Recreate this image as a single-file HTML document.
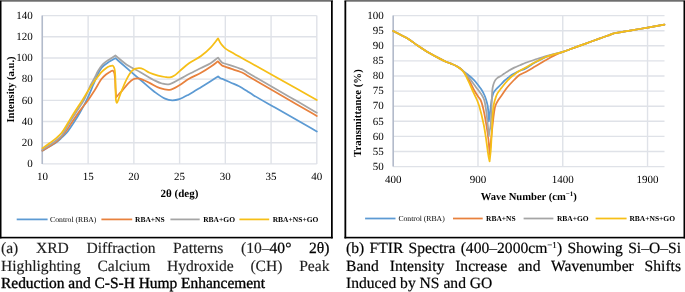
<!DOCTYPE html>
<html><head><meta charset="utf-8"><style>
html,body{margin:0;padding:0;background:#fff}
body{width:685px;height:292px;overflow:hidden;position:relative}
svg,.cap{will-change:transform}
.cap{position:absolute;text-rendering:geometricPrecision;font-family:'Liberation Serif',serif;font-size:15.6px;line-height:17.65px;text-align:justify;color:#000}
.cap .l{display:block;text-align-last:justify;white-space:nowrap}
</style></head><body>
<svg width="685" height="292" viewBox="0 0 685 292" style="position:absolute;left:0;top:0;text-rendering:geometricPrecision">
<rect x="0" y="0" width="333" height="1.2" fill="#6e6e6e"/>
<rect x="0" y="1.2" width="333" height="0.8" fill="#858585"/>
<rect x="344.5" y="0" width="340.5" height="1.2" fill="#6e6e6e"/>
<rect x="344.5" y="1.2" width="340.5" height="0.8" fill="#858585"/>
<g fill="#000">
<rect x="0" y="0.8" width="1.5" height="237.6"/><rect x="331" y="0.8" width="1.75" height="237.6"/><rect x="0" y="236.8" width="332.75" height="1.6"/>
<rect x="344.45" y="0.8" width="1.8" height="237.6"/><rect x="683.5" y="0.8" width="1.5" height="237.6"/><rect x="344.45" y="236.8" width="340.55" height="1.6"/>
</g>
<g stroke="#DFE2E8" stroke-width="1.4" fill="none"><line x1="42.4" y1="163.90" x2="316.8" y2="163.90"/><line x1="42.4" y1="142.71" x2="316.8" y2="142.71"/><line x1="42.4" y1="121.53" x2="316.8" y2="121.53"/><line x1="42.4" y1="100.34" x2="316.8" y2="100.34"/><line x1="42.4" y1="79.16" x2="316.8" y2="79.16"/><line x1="42.4" y1="57.97" x2="316.8" y2="57.97"/><line x1="42.4" y1="36.79" x2="316.8" y2="36.79"/><line x1="42.4" y1="15.60" x2="316.8" y2="15.60"/><line x1="42.40" y1="15.6" x2="42.40" y2="163.9"/><line x1="88.13" y1="15.6" x2="88.13" y2="163.9"/><line x1="133.87" y1="15.6" x2="133.87" y2="163.9"/><line x1="179.60" y1="15.6" x2="179.60" y2="163.9"/><line x1="225.33" y1="15.6" x2="225.33" y2="163.9"/><line x1="271.07" y1="15.6" x2="271.07" y2="163.9"/><line x1="316.80" y1="15.6" x2="316.80" y2="163.9"/><line x1="393.2" y1="15.60" x2="664.5" y2="15.60"/><line x1="393.2" y1="30.70" x2="664.5" y2="30.70"/><line x1="393.2" y1="45.80" x2="664.5" y2="45.80"/><line x1="393.2" y1="60.90" x2="664.5" y2="60.90"/><line x1="393.2" y1="76.00" x2="664.5" y2="76.00"/><line x1="393.2" y1="91.10" x2="664.5" y2="91.10"/><line x1="393.2" y1="106.20" x2="664.5" y2="106.20"/><line x1="393.2" y1="121.30" x2="664.5" y2="121.30"/><line x1="393.2" y1="136.40" x2="664.5" y2="136.40"/><line x1="393.2" y1="151.50" x2="664.5" y2="151.50"/><line x1="393.2" y1="166.60" x2="664.5" y2="166.60"/><line x1="393.20" y1="15.6" x2="393.20" y2="166.6"/><line x1="477.98" y1="15.6" x2="477.98" y2="166.6"/><line x1="562.76" y1="15.6" x2="562.76" y2="166.6"/><line x1="647.54" y1="15.6" x2="647.54" y2="166.6"/></g>
<g stroke="#ABB4C6" stroke-width="1.3"><line x1="42.2" y1="15.6" x2="42.2" y2="163.9"/><line x1="393.2" y1="15.6" x2="393.2" y2="166.6"/></g>
<g fill="none" stroke-width="1.75" stroke-linejoin="round" stroke-linecap="round">
<path d="M42.40,150.70 C44.73,149.33 47.04,148.02 49.40,146.60 C51.84,145.13 54.64,143.60 56.80,142.00 C58.67,140.62 60.08,139.20 61.70,137.70 C63.38,136.14 65.00,134.81 66.70,132.80 C68.92,130.18 71.30,126.35 73.50,123.00 C75.74,119.59 77.89,116.16 80.00,112.50 C82.23,108.64 84.39,104.76 86.50,100.40 C88.87,95.51 91.48,88.98 93.40,84.50 C94.80,81.23 95.63,78.79 97.00,76.00 C98.39,73.15 99.72,69.95 101.70,67.60 C103.59,65.36 106.16,63.69 108.50,62.10 C110.73,60.58 113.10,59.50 115.40,58.20 L115.40,58.20 C119.60,61.87 123.84,65.60 128.00,69.20 C132.04,72.70 135.77,75.89 140.00,79.50 C144.71,83.52 150.40,88.80 155.00,92.20 C158.58,94.84 161.83,97.26 165.00,98.60 C167.50,99.66 169.79,100.22 172.20,100.30 C174.59,100.38 176.89,99.90 179.40,99.10 C182.44,98.13 185.66,96.21 189.00,94.40 C192.82,92.32 197.23,89.51 201.00,87.20 C204.39,85.12 207.62,83.10 210.60,81.20 C213.23,79.52 215.53,78.00 218.00,76.40 L218.20,76.50 C218.80,76.97 219.25,77.46 220.00,77.90 C221.04,78.51 222.48,78.94 224.00,79.60 C226.01,80.47 228.62,81.65 231.00,82.70 C233.48,83.79 236.51,84.96 238.60,86.00 C240.14,86.77 241.16,87.41 242.50,88.20 C243.96,89.06 245.36,89.95 247.00,91.00 C249.02,92.29 250.80,93.62 253.70,95.40 C258.77,98.51 267.92,103.55 275.00,107.60 C282.02,111.62 289.02,115.61 296.00,119.60 C302.95,123.57 309.87,127.53 316.80,131.50" stroke="#5C9AD3"/><path d="M42.40,150.70 C44.73,149.27 47.05,147.91 49.40,146.40 C51.85,144.82 54.66,143.17 56.80,141.40 C58.69,139.84 60.10,138.28 61.70,136.50 C63.41,134.60 65.10,132.49 66.70,130.30 C68.37,128.00 69.66,125.75 71.50,123.00 C73.92,119.38 77.15,114.40 80.00,110.50 C82.62,106.91 85.42,103.84 87.90,100.40 C90.35,97.01 92.53,93.55 94.80,90.00 C97.13,86.35 99.51,81.57 101.70,78.80 C103.19,76.92 104.61,75.64 106.00,74.50 C107.13,73.58 108.30,72.93 109.30,72.30 C110.10,71.80 110.82,71.26 111.50,71.00 C112.03,70.80 112.58,70.51 113.00,70.70 C113.53,70.94 113.89,71.89 114.20,72.80 C114.68,74.20 114.79,76.35 115.00,78.50 C115.27,81.26 115.30,84.87 115.50,88.00 C115.70,91.07 115.97,94.07 116.20,97.10 L116.20,97.10 C117.13,96.07 118.03,95.04 119.00,94.00 C120.02,92.91 120.99,92.05 122.20,90.70 C123.94,88.75 126.26,85.31 128.30,83.30 C129.96,81.66 131.67,80.12 133.30,79.30 C134.56,78.66 135.82,78.38 137.00,78.30 C138.05,78.23 138.95,78.42 140.00,78.70 C141.26,79.03 142.54,79.67 144.00,80.30 C145.81,81.08 147.76,82.00 150.00,83.10 C152.92,84.53 156.62,87.06 160.00,88.20 C163.13,89.25 166.37,90.32 169.50,89.90 C172.84,89.45 176.19,87.02 179.40,85.20 C182.69,83.33 185.55,80.80 189.00,78.80 C192.71,76.64 197.27,74.89 201.00,72.80 C204.43,70.88 207.65,68.82 210.60,66.80 C213.27,64.98 215.53,63.13 218.00,61.30 L218.00,61.30 C218.67,62.07 219.31,62.90 220.00,63.60 C220.65,64.26 221.25,64.93 222.00,65.40 C222.75,65.87 223.41,65.99 224.50,66.40 C226.49,67.15 230.30,68.46 233.00,69.40 C235.44,70.25 238.08,71.06 240.00,71.80 C241.38,72.33 242.35,72.71 243.50,73.30 C244.69,73.91 245.56,74.54 247.00,75.40 C249.30,76.77 252.44,78.62 256.00,80.70 C261.16,83.71 268.51,87.94 275.00,91.70 C281.83,95.66 289.02,99.84 296.00,103.90 C302.95,107.94 309.87,111.97 316.80,116.00" stroke="#E8813D"/><path d="M42.40,149.80 C44.73,148.27 47.05,146.80 49.40,145.20 C51.85,143.54 54.64,141.74 56.80,140.00 C58.66,138.51 60.03,137.52 61.70,135.50 C64.18,132.49 66.92,126.98 69.40,123.00 C71.68,119.34 73.70,116.12 76.00,112.50 C78.48,108.60 81.43,104.77 83.80,100.40 C86.37,95.67 88.63,89.21 90.70,85.00 C92.18,81.99 93.54,79.83 94.80,77.40 C95.95,75.18 96.82,73.00 98.00,71.00 C99.13,69.08 100.42,67.11 101.70,65.60 C102.77,64.33 103.84,63.33 105.00,62.40 C106.11,61.51 107.33,60.87 108.50,60.10 C109.67,59.33 110.84,58.57 112.00,57.80 C113.14,57.04 114.27,56.27 115.40,55.50 L115.40,55.50 C119.60,58.87 123.72,62.78 128.00,65.60 C131.93,68.19 135.80,69.67 140.00,72.00 C144.74,74.62 150.89,78.58 155.00,80.60 C157.72,81.94 159.67,82.87 162.00,83.50 C164.17,84.09 166.12,84.77 168.50,84.40 C171.73,83.90 175.90,80.98 179.40,79.20 C182.72,77.51 185.61,75.77 189.00,74.00 C192.76,72.04 197.22,69.89 201.00,68.00 C204.38,66.31 207.68,65.01 210.60,63.20 C213.31,61.52 215.53,59.47 218.00,57.60 L218.00,57.60 C218.67,58.47 219.32,59.37 220.00,60.20 C220.65,61.00 221.22,61.95 222.00,62.50 C222.73,63.02 223.41,63.11 224.50,63.50 C226.48,64.21 230.31,65.31 233.00,66.20 C235.45,67.01 238.07,67.89 240.00,68.60 C241.37,69.11 242.36,69.42 243.50,70.00 C244.69,70.61 245.56,71.31 247.00,72.20 C249.30,73.61 252.44,75.50 256.00,77.60 C261.15,80.64 268.50,84.86 275.00,88.60 C281.82,92.52 289.02,96.58 296.00,100.60 C302.96,104.61 309.87,108.67 316.80,112.70" stroke="#A5A5A5"/><path d="M42.40,148.20 C44.73,146.57 47.05,145.01 49.40,143.30 C51.85,141.52 54.64,139.58 56.80,137.70 C58.66,136.08 60.12,134.77 61.70,132.80 C63.64,130.38 65.37,127.11 67.30,124.00 C69.45,120.55 71.62,116.77 74.00,113.00 C76.57,108.92 79.72,104.31 82.20,100.40 C84.32,97.05 85.96,94.18 88.00,91.00 C90.15,87.65 92.47,84.04 94.80,80.80 C97.04,77.69 99.56,74.15 101.70,71.90 C103.22,70.30 104.59,69.17 106.00,68.20 C107.18,67.38 108.34,66.74 109.50,66.30 C110.54,65.91 111.82,65.33 112.60,65.60 C113.25,65.82 113.65,66.60 114.00,67.30 C114.43,68.16 114.59,69.28 114.80,70.50 C115.07,72.08 115.18,73.94 115.30,76.00 C115.45,78.63 115.43,81.92 115.50,85.00 C115.57,88.25 115.59,92.16 115.70,95.00 C115.78,97.11 115.75,99.07 116.00,100.50 C116.17,101.44 116.38,102.74 116.70,102.80 C116.95,102.84 117.29,102.17 117.60,101.60 C118.19,100.52 118.81,98.34 119.50,96.50 C120.32,94.33 121.13,92.01 122.20,89.40 C123.56,86.10 125.32,81.56 127.10,78.30 C128.62,75.51 130.29,72.53 132.00,70.90 C133.19,69.76 134.41,69.15 135.70,68.70 C136.92,68.28 138.23,68.11 139.50,68.20 C140.83,68.29 142.07,68.70 143.50,69.30 C145.37,70.08 147.35,71.79 149.60,72.80 C152.13,73.93 155.31,74.88 158.00,75.60 C160.42,76.24 162.85,76.70 165.00,77.00 C166.80,77.25 168.45,77.63 170.00,77.40 C171.43,77.18 172.63,76.61 174.00,75.80 C175.75,74.76 177.35,73.02 179.40,71.30 C182.15,69.00 185.51,65.69 189.00,63.20 C192.68,60.57 197.33,58.67 201.00,56.00 C204.50,53.45 207.71,50.59 210.60,47.60 C213.39,44.71 215.60,41.47 218.10,38.40 L218.10,38.40 C218.73,39.67 219.27,41.00 220.00,42.20 C220.73,43.40 221.58,44.53 222.50,45.60 C223.42,46.67 224.28,47.64 225.50,48.60 C227.02,49.79 228.67,50.58 231.10,52.00 C235.53,54.58 243.32,58.86 250.00,62.60 C257.52,66.81 266.17,71.63 274.00,76.00 C281.49,80.19 288.77,84.25 296.00,88.30 C303.03,92.24 309.87,96.10 316.80,100.00" stroke="#F6BF17"/>
<path d="M393.20,31.00 C395.47,32.17 397.62,33.25 400.00,34.50 C402.66,35.90 405.59,37.26 408.40,39.00 C411.45,40.89 414.35,43.30 417.60,45.50 C421.15,47.90 425.09,50.54 428.90,52.80 C432.62,55.00 437.04,57.29 440.20,58.90 C442.44,60.04 444.12,60.89 446.00,61.70 C447.71,62.44 449.32,62.92 451.00,63.60 C452.75,64.31 454.78,65.08 456.30,65.90 C457.53,66.57 458.53,67.31 459.50,68.00 C460.34,68.61 460.98,69.13 461.80,69.80 C462.79,70.60 463.90,71.61 465.00,72.50 C466.13,73.41 467.35,74.26 468.50,75.20 C469.68,76.16 470.85,77.14 472.00,78.20 C473.19,79.30 474.38,80.41 475.50,81.70 C476.72,83.09 477.89,84.79 479.00,86.30 C480.05,87.72 481.08,89.00 482.00,90.50 C482.96,92.06 483.88,93.85 484.60,95.50 C485.26,97.02 485.71,98.38 486.20,100.00 C486.76,101.84 487.30,103.52 487.70,106.00 C488.33,109.92 488.43,116.27 488.80,121.40 L488.80,121.40 C489.40,116.93 490.09,111.89 490.60,108.00 C490.99,104.99 491.21,102.28 491.60,100.00 C491.90,98.28 492.23,96.83 492.60,95.50 C492.91,94.42 493.08,93.58 493.60,92.60 C494.23,91.42 495.20,90.25 496.30,89.00 C497.68,87.42 499.99,85.47 501.40,84.00 C502.46,82.89 503.08,81.98 504.10,81.00 C505.24,79.91 506.66,78.85 508.00,77.80 C509.39,76.72 510.72,75.59 512.30,74.60 C514.03,73.51 515.93,72.57 518.00,71.60 C520.35,70.50 523.07,69.76 525.70,68.40 C528.72,66.85 531.73,64.46 535.00,62.60 C538.48,60.62 542.57,58.31 546.00,56.90 C548.82,55.74 551.26,55.22 554.00,54.40 C556.86,53.55 560.03,52.79 562.80,51.90 C565.34,51.08 567.40,50.24 570.00,49.30 C573.06,48.19 576.67,46.87 580.00,45.66 C583.33,44.45 586.67,43.25 590.00,42.04 C593.33,40.83 596.85,39.54 600.00,38.40 C602.81,37.38 605.64,36.35 608.00,35.50 C609.86,34.83 611.32,34.17 613.00,33.70 C614.65,33.24 615.97,33.08 618.00,32.70 C621.14,32.11 625.61,31.36 630.00,30.60 C635.33,29.68 641.89,28.61 647.70,27.60 C653.35,26.61 658.83,25.60 664.40,24.60" stroke="#5C9AD3"/><path d="M393.20,31.00 C395.47,32.17 397.62,33.25 400.00,34.50 C402.66,35.90 405.59,37.26 408.40,39.00 C411.45,40.89 414.35,43.30 417.60,45.50 C421.15,47.90 425.09,50.54 428.90,52.80 C432.62,55.00 437.04,57.29 440.20,58.90 C442.44,60.04 444.12,60.89 446.00,61.70 C447.71,62.44 449.32,62.92 451.00,63.60 C452.75,64.31 454.78,65.08 456.30,65.90 C457.53,66.57 458.56,67.31 459.50,68.00 C460.29,68.58 460.87,69.00 461.60,69.70 C462.53,70.59 463.54,71.79 464.50,73.00 C465.58,74.36 466.72,75.89 467.70,77.50 C468.73,79.21 469.52,81.05 470.50,83.00 C471.61,85.19 472.74,87.77 474.00,90.00 C475.22,92.16 476.70,94.40 477.90,96.20 C478.86,97.64 479.85,98.53 480.60,100.00 C481.47,101.72 481.91,103.41 482.60,106.00 C483.80,110.53 485.39,119.03 486.40,125.00 C487.30,130.28 487.96,135.03 488.50,140.00 C489.02,144.87 489.23,149.67 489.60,154.50 L489.60,154.50 C490.07,149.67 490.50,144.87 491.00,140.00 C491.50,135.04 492.07,129.72 492.60,125.00 C493.07,120.78 493.46,116.50 494.00,113.00 C494.42,110.26 494.63,107.93 495.40,105.70 C496.11,103.63 497.25,101.73 498.30,100.00 C499.26,98.43 500.28,97.30 501.40,95.70 C502.79,93.72 504.45,91.04 506.00,89.00 C507.39,87.17 508.81,85.55 510.20,84.00 C511.48,82.57 512.60,81.38 514.00,80.00 C515.62,78.40 517.42,76.34 519.40,75.00 C521.33,73.69 523.42,73.20 525.70,72.00 C528.53,70.51 531.85,68.46 535.00,66.60 C538.28,64.66 541.74,62.48 545.00,60.60 C548.06,58.83 550.98,57.07 554.00,55.60 C556.91,54.18 560.00,52.99 562.80,51.90 C565.31,50.92 567.40,50.24 570.00,49.30 C573.06,48.19 576.67,46.87 580.00,45.66 C583.33,44.45 586.67,43.25 590.00,42.04 C593.33,40.83 596.85,39.54 600.00,38.40 C602.81,37.38 605.64,36.35 608.00,35.50 C609.86,34.83 611.32,34.17 613.00,33.70 C614.65,33.24 615.97,33.08 618.00,32.70 C621.14,32.11 625.61,31.36 630.00,30.60 C635.33,29.68 641.89,28.61 647.70,27.60 C653.35,26.61 658.83,25.60 664.40,24.60" stroke="#E8813D"/><path d="M393.20,31.00 C395.47,32.17 397.62,33.25 400.00,34.50 C402.66,35.90 405.59,37.26 408.40,39.00 C411.45,40.89 414.35,43.30 417.60,45.50 C421.15,47.90 425.09,50.54 428.90,52.80 C432.62,55.00 437.04,57.29 440.20,58.90 C442.44,60.04 444.12,60.89 446.00,61.70 C447.71,62.44 449.32,62.92 451.00,63.60 C452.75,64.31 454.78,65.08 456.30,65.90 C457.53,66.57 458.53,67.31 459.50,68.00 C460.34,68.61 460.99,69.09 461.80,69.80 C462.80,70.69 463.97,71.89 465.00,73.00 C466.04,74.12 467.05,75.38 468.00,76.50 C468.88,77.54 469.62,78.35 470.50,79.50 C471.60,80.94 472.78,82.82 474.00,84.50 C475.27,86.25 476.64,87.94 478.00,89.80 C479.47,91.82 481.42,94.30 482.50,96.20 C483.29,97.59 483.73,98.56 484.20,100.00 C484.77,101.75 485.08,103.51 485.50,106.00 C486.19,110.04 486.97,117.29 487.50,122.00 C487.92,125.72 488.27,129.42 488.50,132.00 C488.64,133.63 488.70,134.67 488.80,136.00 L488.80,136.00 C489.40,132.33 490.17,128.96 490.60,125.00 C491.10,120.40 491.19,114.50 491.40,110.00 C491.57,106.33 491.67,103.04 491.80,100.00 C491.91,97.46 491.95,95.14 492.10,93.00 C492.23,91.19 492.35,89.51 492.60,88.00 C492.81,86.72 493.07,85.60 493.40,84.50 C493.71,83.48 494.09,82.44 494.50,81.60 C494.84,80.91 495.14,80.38 495.60,79.80 C496.12,79.14 496.76,78.47 497.50,77.90 C498.33,77.26 499.39,76.83 500.40,76.20 C501.55,75.48 502.70,74.67 504.00,73.80 C505.53,72.77 507.28,71.44 509.00,70.40 C510.71,69.37 512.48,68.46 514.30,67.60 C516.15,66.73 518.10,66.00 520.00,65.20 C521.90,64.40 523.55,63.62 525.70,62.80 C528.41,61.77 531.76,60.67 535.00,59.60 C538.51,58.44 542.61,57.04 546.00,56.10 C548.86,55.31 551.27,54.88 554.00,54.20 C556.87,53.48 560.03,52.76 562.80,51.90 C565.34,51.11 567.40,50.24 570.00,49.30 C573.06,48.19 576.67,46.87 580.00,45.66 C583.33,44.45 586.67,43.25 590.00,42.04 C593.33,40.83 596.85,39.54 600.00,38.40 C602.81,37.38 605.64,36.35 608.00,35.50 C609.86,34.83 611.32,34.17 613.00,33.70 C614.65,33.24 615.97,33.08 618.00,32.70 C621.14,32.11 625.61,31.36 630.00,30.60 C635.33,29.68 641.89,28.61 647.70,27.60 C653.35,26.61 658.83,25.60 664.40,24.60" stroke="#A5A5A5"/><path d="M393.20,31.00 C395.47,32.17 397.62,33.25 400.00,34.50 C402.66,35.90 405.59,37.26 408.40,39.00 C411.45,40.89 414.35,43.30 417.60,45.50 C421.15,47.90 425.09,50.54 428.90,52.80 C432.62,55.00 437.04,57.29 440.20,58.90 C442.44,60.04 444.12,60.89 446.00,61.70 C447.71,62.44 449.32,62.92 451.00,63.60 C452.75,64.31 454.78,65.08 456.30,65.90 C457.53,66.57 458.59,67.32 459.50,68.00 C460.23,68.55 460.74,68.95 461.40,69.60 C462.23,70.42 463.19,71.43 464.00,72.60 C464.95,73.97 465.77,75.76 466.60,77.40 C467.44,79.06 468.12,80.57 469.00,82.50 C470.14,84.99 471.48,88.22 472.80,91.10 C474.15,94.05 475.87,97.30 477.00,100.00 C477.91,102.17 478.41,103.41 479.20,106.00 C480.57,110.53 482.56,118.82 483.80,125.00 C484.96,130.80 485.71,136.71 486.50,142.00 C487.19,146.62 487.69,151.45 488.30,155.00 C488.73,157.48 489.17,159.20 489.60,161.30 L489.60,161.30 C490.00,157.53 490.46,154.21 490.80,150.00 C491.23,144.70 491.49,137.82 491.80,132.00 C492.09,126.51 492.25,120.74 492.60,116.00 C492.88,112.19 493.13,108.62 493.60,105.70 C493.95,103.51 494.32,101.94 494.90,100.00 C495.53,97.91 496.22,95.59 497.30,93.60 C498.39,91.59 499.97,89.86 501.40,88.00 C502.87,86.09 504.49,84.04 506.00,82.30 C507.35,80.74 508.54,79.36 510.00,78.00 C511.53,76.58 513.31,75.25 515.00,74.00 C516.64,72.79 518.25,71.67 520.00,70.60 C521.81,69.50 523.57,68.67 525.70,67.50 C528.43,66.00 531.75,64.02 535.00,62.30 C538.49,60.45 542.57,58.16 546.00,56.80 C548.83,55.68 551.27,55.20 554.00,54.40 C556.86,53.56 560.03,52.79 562.80,51.90 C565.34,51.08 567.40,50.24 570.00,49.30 C573.06,48.19 576.67,46.87 580.00,45.66 C583.33,44.45 586.67,43.25 590.00,42.04 C593.33,40.83 596.85,39.54 600.00,38.40 C602.81,37.38 605.64,36.35 608.00,35.50 C609.86,34.83 611.32,34.17 613.00,33.70 C614.65,33.24 615.97,33.08 618.00,32.70 C621.14,32.11 625.61,31.36 630.00,30.60 C635.33,29.68 641.89,28.61 647.70,27.60 C653.35,26.61 658.83,25.60 664.40,24.60" stroke="#F6BF17"/>
</g>
<g style="font-family:'Liberation Serif',serif;font-size:11px;fill:#000" text-anchor="end"><text x="32.8" y="167.10">0</text><text x="32.8" y="145.91">20</text><text x="32.8" y="124.73">40</text><text x="32.8" y="103.54">60</text><text x="32.8" y="82.36">80</text><text x="32.8" y="61.17">100</text><text x="32.8" y="39.99">120</text><text x="32.8" y="18.80">140</text><text x="383.8" y="18.80">100</text><text x="383.8" y="33.90">95</text><text x="383.8" y="49.00">90</text><text x="383.8" y="64.10">85</text><text x="383.8" y="79.20">80</text><text x="383.8" y="94.30">75</text><text x="383.8" y="109.40">70</text><text x="383.8" y="124.50">65</text><text x="383.8" y="139.60">60</text><text x="383.8" y="154.70">55</text><text x="383.8" y="169.80">50</text></g><g style="font-family:'Liberation Serif',serif;font-size:11px;fill:#000" text-anchor="middle"><text x="42.40" y="179.9">10</text><text x="88.13" y="179.9">15</text><text x="133.87" y="179.9">20</text><text x="179.60" y="179.9">25</text><text x="225.33" y="179.9">30</text><text x="271.07" y="179.9">35</text><text x="316.80" y="179.9">40</text><text x="393.20" y="183">400</text><text x="477.98" y="183">900</text><text x="562.76" y="183">1400</text><text x="647.54" y="183">1900</text></g><text style="font-family:'Liberation Serif',serif;font-size:10.6px;font-weight:bold;fill:#000;font-size:11px" text-anchor="middle" x="179.5" y="196.8">2θ (deg)</text><text style="font-family:'Liberation Serif',serif;font-size:10.6px;font-weight:bold;fill:#000" text-anchor="middle" x="528.8" y="200.2">Wave Number (cm<tspan font-size="7" dy="-4">−1</tspan><tspan dy="4">)</tspan></text><text style="font-family:'Liberation Serif',serif;font-size:10.6px;font-weight:bold;fill:#000" text-anchor="middle" transform="translate(13.6,89.5) rotate(-90)">Intensity (a.u.)</text><text style="font-family:'Liberation Serif',serif;font-size:10.6px;font-weight:bold;fill:#000;font-size:10.8px" text-anchor="middle" transform="translate(361.2,113.1) rotate(-90)">Transmittance (%)</text><line x1="16.7" y1="219.4" x2="47.6" y2="219.4" stroke="#5C9AD3" stroke-width="1.75"/><text x="50.1" y="221.80" style="font-family:'Liberation Serif',serif;font-size:7.5px;fill:#000;font-weight:normal;font-size:7.7px">Control (RBA)</text><line x1="101.4" y1="219.4" x2="132.2" y2="219.4" stroke="#E8813D" stroke-width="1.75"/><text x="135" y="221.80" style="font-family:'Liberation Serif',serif;font-size:7.5px;fill:#000;font-weight:bold">RBA+NS</text><line x1="170.4" y1="219.4" x2="199.7" y2="219.4" stroke="#A5A5A5" stroke-width="1.75"/><text x="203.2" y="221.80" style="font-family:'Liberation Serif',serif;font-size:7.5px;fill:#000;font-weight:bold">RBA+GO</text><line x1="239.4" y1="219.4" x2="269.2" y2="219.4" stroke="#F6BF17" stroke-width="1.75"/><text x="272.7" y="221.80" style="font-family:'Liberation Serif',serif;font-size:7.5px;fill:#000;font-weight:bold">RBA+NS+GO</text><line x1="365.1" y1="218.5" x2="395.5" y2="218.5" stroke="#5C9AD3" stroke-width="1.75"/><text x="398.4" y="220.90" style="font-family:'Liberation Serif',serif;font-size:7.5px;fill:#000;font-weight:normal;font-size:7.7px">Control (RBA)</text><line x1="453" y1="218.5" x2="482.7" y2="218.5" stroke="#E8813D" stroke-width="1.75"/><text x="486" y="220.90" style="font-family:'Liberation Serif',serif;font-size:7.5px;fill:#000;font-weight:bold">RBA+NS</text><line x1="523.6" y1="218.5" x2="553.4" y2="218.5" stroke="#A5A5A5" stroke-width="1.75"/><text x="556.9" y="220.90" style="font-family:'Liberation Serif',serif;font-size:7.5px;fill:#000;font-weight:bold">RBA+GO</text><line x1="595.6" y1="218.5" x2="626.6" y2="218.5" stroke="#F6BF17" stroke-width="1.75"/><text x="629.4" y="220.90" style="font-family:'Liberation Serif',serif;font-size:7.5px;fill:#000;font-weight:bold">RBA+NS+GO</text></svg>
<div class="cap" style="left:1px;top:239.8px;width:328.5px">
<div style="text-align:justify;text-align-last:justify;color:#1e1e1e;-webkit-text-stroke:0.15px #1e1e1e">(a) XRD Diffraction Patterns (10–<span style="color:#000;-webkit-text-stroke:0.25px #000">40°</span> <span style="color:#000;-webkit-text-stroke:0.25px #000">2θ)</span></div>
<div style="text-align:justify;text-align-last:justify;color:#1e1e1e;-webkit-text-stroke:0.15px #1e1e1e">Highlighting Calcium Hydroxide (CH) Peak</div>
<div style="text-align:left;font-size:15.45px;-webkit-text-stroke:0.35px #000">Reduction and C-S-H Hump Enhancement</div>
</div>
<div class="cap" style="left:345.5px;top:240.3px;width:335px;-webkit-text-stroke:0.2px #000">
<div style="text-align:justify;text-align-last:justify">(b) FTIR Spectra (400–2000cm<sup style="font-size:9px;vertical-align:5px;line-height:0">−1</sup>) Showing Si–O–Si</div>
<div style="text-align:justify;text-align-last:justify">Band Intensity Increase and Wavenumber Shifts</div>
<div style="text-align:left">Induced by NS and GO</div>
</div>
</body></html>
